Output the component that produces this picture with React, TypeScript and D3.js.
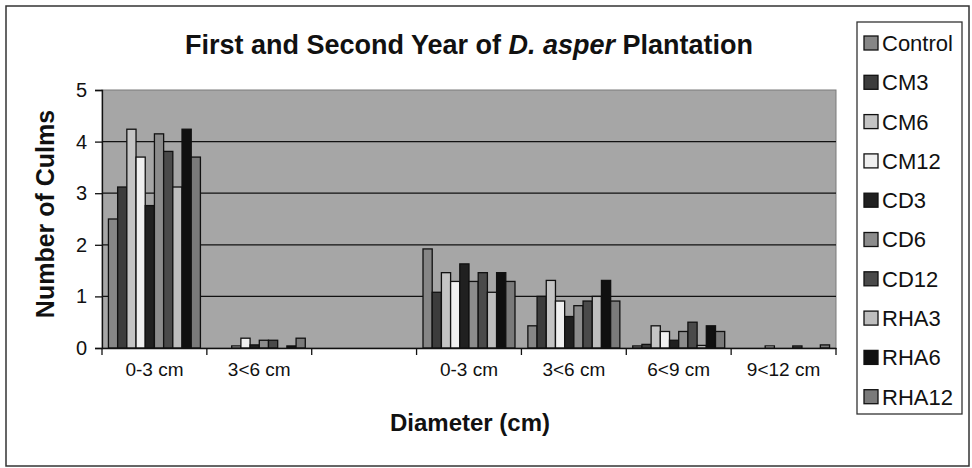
import React, { useEffect, useRef } from 'react';
import * as d3 from 'd3';

const WIDTH = 972;
const HEIGHT = 468;
const PLOT = { left: 102, right: 836, top: 90, bottom: 348 };
const FONT = '"Liberation Sans", Arial, sans-serif';

const categories = ['0-3 cm', '3<6 cm', '', '0-3 cm', '3<6 cm', '6<9 cm', '9<12 cm'];
const seriesNames = ['Control', 'CM3', 'CM6', 'CM12', 'CD3', 'CD6', 'CD12', 'RHA3', 'RHA6', 'RHA12'];
const seriesColors = ['#868686', '#3c3c3c', '#c4c4c4', '#efefef', '#202020', '#8c8c8c', '#4a4a4a', '#bebebe', '#101010', '#7a7a7a'];

const control = [2.5, 0, 0, 1.92, 0.43, 0.04, 0];
const cm3 = [3.12, 0, 0, 1.08, 1.0, 0.07, 0];
const cm6 = [4.24, 0.04, 0, 1.46, 1.31, 0.43, 0];
const cm12 = [3.7, 0.19, 0, 1.29, 0.91, 0.32, 0.04];
const cd3 = [2.76, 0.06, 0, 1.63, 0.61, 0.15, 0];
const cd6 = [4.15, 0.15, 0, 1.29, 0.82, 0.32, 0];
const cd12 = [3.81, 0.15, 0, 1.46, 0.91, 0.5, 0.04];
const rha3 = [3.12, 0, 0, 1.08, 1.0, 0.05, 0];
const rha6 = [4.24, 0.04, 0, 1.46, 1.31, 0.43, 0];
const rha12 = [3.7, 0.19, 0, 1.29, 0.91, 0.32, 0.06];

const seriesValues = [control, cm3, cm6, cm12, cd3, cd6, cd12, rha3, rha6, rha12];
const yTicks = [0, 1, 2, 3, 4, 5];

const App = () => {
  const ref = useRef<SVGSVGElement>(null);

  useEffect(() => {
    if (!ref.current) return;
    const svg = d3.select(ref.current);
    svg.selectAll('*').remove();

    // outer frame
    svg.append('rect')
      .attr('x', 6).attr('y', 6)
      .attr('width', 963).attr('height', 460)
      .attr('fill', '#fff')
      .attr('stroke', '#333')
      .attr('stroke-width', 1.5);

    const x0 = d3.scaleBand<number>()
      .domain(categories.map((_, i) => i))
      .range([PLOT.left, PLOT.right])
      .padding(0);

    const x1 = d3.scaleBand<number>()
      .domain(seriesNames.map((_, i) => i))
      .range([0, x0.bandwidth()])
      .paddingInner(0)
      .paddingOuter(0.7);

    const y = d3.scaleLinear().domain([0, 5]).range([PLOT.bottom, PLOT.top]);

    // plot background
    svg.append('rect')
      .attr('x', PLOT.left).attr('y', PLOT.top)
      .attr('width', PLOT.right - PLOT.left)
      .attr('height', PLOT.bottom - PLOT.top)
      .attr('fill', '#a6a6a6')
      .attr('stroke', '#7a7a7a')
      .attr('stroke-width', 1);

    // gridlines
    svg.append('g')
      .selectAll('line')
      .data(yTicks.filter((t) => t > 0 && t < 5))
      .enter()
      .append('line')
      .attr('x1', PLOT.left).attr('x2', PLOT.right)
      .attr('y1', (d) => y(d)).attr('y2', (d) => y(d))
      .attr('stroke', '#111')
      .attr('stroke-width', 1.2);

    // bars
    const groups = svg.append('g')
      .selectAll('g')
      .data(seriesValues)
      .enter()
      .append('g')
      .attr('fill', (_, i) => seriesColors[i]);

    groups.each(function (vals, si) {
      d3.select(this)
        .selectAll('rect')
        .data(vals.map((v, ci) => ({ v, ci })).filter((d) => d.v > 0))
        .enter()
        .append('rect')
        .attr('x', (d) => x0(d.ci)! + x1(si)!)
        .attr('y', (d) => y(d.v))
        .attr('width', x1.bandwidth())
        .attr('height', (d) => y(0) - y(d.v))
        .attr('stroke', '#111')
        .attr('stroke-width', 1.3);
    });

    // y axis
    const yAxis = d3.axisLeft(y).tickValues(yTicks).tickSize(7).tickPadding(8).tickFormat(d3.format('d'));
    const yg = svg.append('g')
      .attr('transform', `translate(${PLOT.left}, 0)`)
      .call(yAxis);
    yg.select('.domain').attr('stroke', '#111').attr('stroke-width', 1.3);
    yg.selectAll('.tick line').attr('stroke', '#111').attr('stroke-width', 1.3);
    yg.selectAll('.tick text')
      .attr('fill', '#111')
      .style('font-family', FONT)
      .style('font-size', '20px');

    // x axis
    const xAxis = d3.axisBottom(x0).tickSize(0).tickPadding(15).tickFormat((i) => categories[i as number]);
    const xg = svg.append('g')
      .attr('transform', `translate(0, ${PLOT.bottom})`)
      .call(xAxis);
    xg.select('.domain').attr('stroke', '#111').attr('stroke-width', 1.3);
    xg.selectAll('.tick text')
      .attr('fill', '#111')
      .style('font-family', FONT)
      .style('font-size', '19px');
    // category boundary ticks
    xg.append('g')
      .selectAll('line')
      .data(d3.range(categories.length + 1))
      .enter()
      .append('line')
      .attr('x1', (i) => PLOT.left + i * x0.step())
      .attr('x2', (i) => PLOT.left + i * x0.step())
      .attr('y1', 0).attr('y2', 7)
      .attr('stroke', '#111')
      .attr('stroke-width', 1.3);

    // title
    const title = svg.append('text')
      .attr('x', 469).attr('y', 54)
      .attr('text-anchor', 'middle')
      .style('font-family', FONT)
      .style('font-size', '27px')
      .style('font-weight', 'bold')
      .attr('fill', '#111');
    title.append('tspan').text('First and Second Year of ');
    title.append('tspan').style('font-style', 'italic').text('D. asper');
    title.append('tspan').text(' Plantation');

    // axis titles
    svg.append('text')
      .attr('x', 470).attr('y', 431)
      .attr('text-anchor', 'middle')
      .style('font-family', FONT)
      .style('font-size', '24px')
      .style('font-weight', 'bold')
      .attr('fill', '#111')
      .text('Diameter (cm)');

    svg.append('text')
      .attr('transform', 'translate(54, 214) rotate(-90)')
      .attr('text-anchor', 'middle')
      .style('font-family', FONT)
      .style('font-size', '25px')
      .style('font-weight', 'bold')
      .attr('fill', '#111')
      .text('Number of Culms');

    // legend
    const legend = svg.append('g');
    legend.append('rect')
      .attr('x', 857).attr('y', 22)
      .attr('width', 105).attr('height', 392)
      .attr('fill', '#fff')
      .attr('stroke', '#333')
      .attr('stroke-width', 1.3);

    const items = legend.selectAll('g.item')
      .data(seriesNames)
      .enter()
      .append('g')
      .attr('class', 'item')
      .attr('transform', (_, i) => `translate(864, ${43 + i * 39.3})`);

    items.append('rect')
      .attr('x', 0).attr('y', -7)
      .attr('width', 14).attr('height', 14)
      .attr('fill', (_, i) => seriesColors[i])
      .attr('stroke', '#111')
      .attr('stroke-width', 1.3);

    items.append('text')
      .attr('x', 18).attr('y', 0)
      .attr('dy', '0.36em')
      .style('font-family', FONT)
      .style('font-size', '22px')
      .attr('fill', '#111')
      .text((d) => d);
  }, []);

  return (
    <div style={{ position: 'absolute', left: 0, top: 0 }}>
      <svg ref={ref} width={WIDTH} height={HEIGHT} style={{ display: 'block' }} />
    </div>
  );
};

export default App;
